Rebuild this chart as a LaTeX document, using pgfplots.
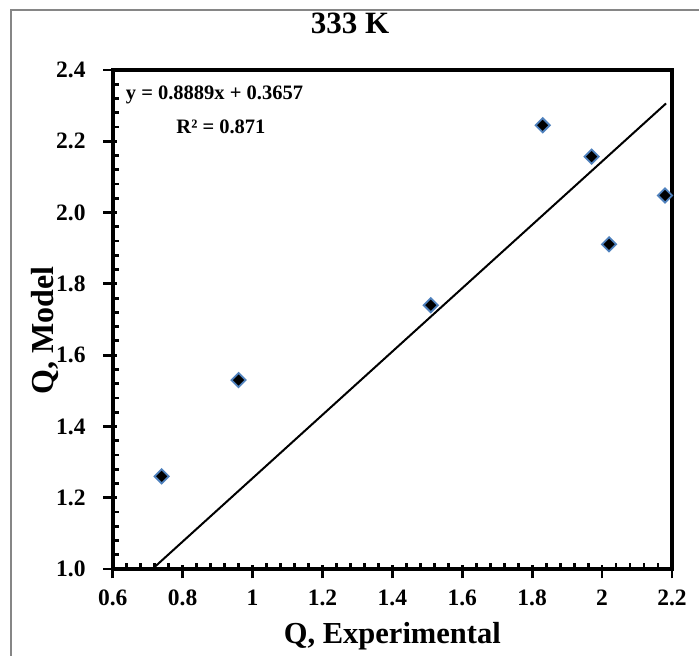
\documentclass[border=0pt]{standalone}
\usepackage{fontspec}
\setmainfont{Liberation Serif}
\usepackage{pgfplots}
\pgfplotsset{compat=1.18}
\definecolor{mkedge}{RGB}{79,129,189}
\definecolor{brd}{RGB}{134,134,134}
\begin{document}
\begin{tikzpicture}[x=1pt,y=1pt]
\useasboundingbox (0,0) rectangle (699,656);
\draw[brd, line width=2.4pt] (11.2,-5) -- (11.2,646) -- (710,646);
\node[anchor=base, inner sep=0pt, font=\fontsize{31}{36}\selectfont\bfseries] at (350,622) {333 K};
\begin{axis}[
  scale only axis, width=559.3pt, height=499pt,
  at={(112.7pt,87pt)}, anchor=south west,
  xmin=0.6, xmax=2.2, ymin=1.0, ymax=2.4,
  xtick={0.6,0.8,1,1.2,1.4,1.6,1.8,2,2.2},
  ytick={1.0,1.2,1.4,1.6,1.8,2.0,2.2,2.4},
  minor x tick num=4, minor y tick num=4,
  tick align=inside, tick pos=left,
  major tick length=13.4pt, minor tick length=6pt,
  major x tick style={yshift=-9.4pt},
  major y tick style={xshift=-9.4pt},
  tick style={black, line width=2.8pt},
  axis line style={line width=4.4pt},
  clip=false,
  /pgf/number format/assume math mode=true,
  ticklabel style={font=\fontsize{23.5}{28}\selectfont\bfseries, inner sep=0pt},
  xticklabel style={anchor=north, yshift=-21pt},
  yticklabel style={anchor=east, xshift=-27pt, /pgf/number format/.cd, fixed, fixed zerofill, precision=1},
  xlabel={Q, Experimental},
  ylabel={Q, Model},
  xlabel style={font=\fontsize{30.5}{34}\selectfont\bfseries, inner sep=0pt, at={(axis description cs:0.5,-0.1503)}, anchor=base},
  ylabel style={font=\fontsize{32}{36}\selectfont\bfseries, inner sep=0pt, at={(axis description cs:-0.105,0.478)}, anchor=base},
]
\addplot[only marks, mark=square*, mark size=5pt,
  mark options={rotate=45, fill=black, draw=mkedge, line width=1.8pt}]
  coordinates {(0.74,1.26) (0.96,1.53) (1.51,1.74) (1.83,2.245) (1.97,2.157) (2.02,1.911) (2.18,2.048)};
\addplot[black, line width=2pt, no marks] coordinates {(0.72,1.0057) (2.183,2.3062)};
\node[anchor=base, inner sep=0pt, font=\fontsize{20.5}{24}\selectfont\bfseries] at (rel axis cs:0.182,0.9413) {y = 0.8889x + 0.3657};
\node[anchor=base, inner sep=0pt, font=\fontsize{20.5}{24}\selectfont\bfseries] at (rel axis cs:0.1936,0.8731) {R² = 0.871};
\end{axis}
\end{tikzpicture}
\end{document}
